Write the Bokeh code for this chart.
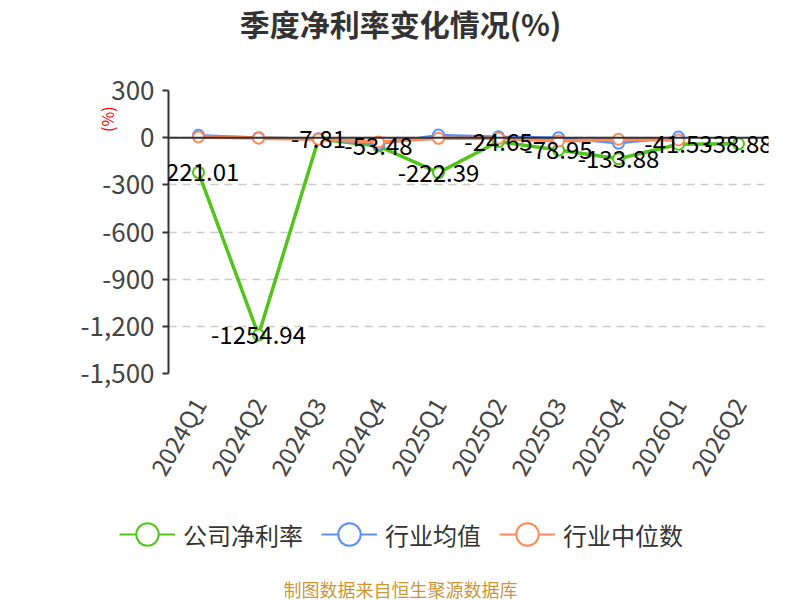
import math
from bokeh.plotting import figure
from bokeh.models import (Range1d, FixedTicker, NumeralTickFormatter, Span, Label,
                          Legend, LegendItem, ColumnDataSource, LabelSet)
from bokeh.core.properties import value
from bokeh.embed import file_html
from bokeh.resources import INLINE

quarters = ["2024Q1", "2024Q2", "2024Q3", "2024Q4", "2025Q1", "2025Q2",
            "2025Q3", "2025Q4", "2026Q1", "2026Q2"]
company = [-221.01, -1254.94, -7.81, -53.48, -222.39, -24.65, -78.95, -133.88, -41.53, -38.88]
company_text = ["-221.01", "-1254.94", "-7.81", "-53.48", "-222.39", "-24.65",
                "-78.95", "-133.88", "-41.53", "-38.88"]
industry_avg = [15, 0, -7, -42, 17, 6, 0, -35, 4]
industry_median = [5, -3, -10, -27, -4, -4, -21, -10, -15]
y_ticks = [-1500, -1200, -900, -600, -300, 0, 300]
series_names = ["公司净利率", "行业均值", "行业中位数"]

FONT = "Noto Sans CJK SC"
GREEN = "#52c41a"
BLUE = "#5b8ff9"
ORANGE = "#ff8a5b"
colors = [GREEN, BLUE, ORANGE]


def blank_fig(h):
    f = figure(width=800, height=h, output_backend="svg", toolbar_location=None,
               x_range=Range1d(0, 800), y_range=Range1d(0, h),
               x_axis_type=None, y_axis_type=None, min_border=0)
    f.outline_line_color = None
    f.xgrid.visible = False
    f.ygrid.visible = False
    return f


# ---------- title strip ----------
top = blank_fig(46)
top.add_layout(Label(x=400, y=24, text="季度净利率变化情况(%)", text_align="center",
                     text_baseline="middle", text_font=FONT, text_font_size="30px",
                     text_font_style="bold", text_color="#333333"))

# ---------- main chart ----------
p = figure(width=800, height=454, output_backend="svg", toolbar_location=None,
           x_range=Range1d(-0.5, len(quarters) - 0.5), y_range=Range1d(-1500, 300),
           min_border_left=168, min_border_right=32, min_border_top=44, min_border_bottom=127)
p.outline_line_color = None

xs = list(range(len(quarters)))

p.xgrid.grid_line_color = None
p.ygrid.grid_line_color = "#cccccc"
p.ygrid.grid_line_width = 1.5
p.ygrid.grid_line_dash = "8 6"
p.ygrid.ticker = FixedTicker(ticks=y_ticks)

ax = p.yaxis[0]
ax.ticker = FixedTicker(ticks=y_ticks)
ax.formatter = NumeralTickFormatter(format="0,0")
ax.axis_line_color = "#333333"
ax.axis_line_width = 2
ax.major_tick_line_color = "#333333"
ax.major_tick_line_width = 2
ax.major_tick_out = 6
ax.major_tick_in = 0
ax.minor_tick_line_color = None
ax.major_label_text_font = FONT
ax.major_label_text_font_size = "26px"
ax.major_label_text_color = "#444444"
ax.major_label_standoff = 8
ax.axis_label = "(%)" + "\u00a0" * 16
ax.axis_label_text_color = "red"
ax.axis_label_text_font = FONT
ax.axis_label_text_font_size = "16px"
ax.axis_label_text_font_style = "normal"
ax.axis_label_standoff = -41
if "axis_label_align" in ax.properties():
    for v in ("end", "right"):
        try:
            ax.axis_label_align = v
            break
        except ValueError:
            pass

p.xaxis.ticker = FixedTicker(ticks=xs)
p.xaxis.major_label_overrides = {i: q for i, q in enumerate(quarters)}
p.xaxis.axis_line_color = None
p.xaxis.major_tick_line_color = None
p.xaxis.minor_tick_line_color = None
p.xaxis.major_label_orientation = math.pi / 3
p.xaxis.major_label_text_font = FONT
p.xaxis.major_label_text_font_size = "24px"
p.xaxis.major_label_text_color = "#444444"
p.xaxis.major_label_standoff = 20

p.add_layout(Span(location=0, dimension="width", line_color="#333333", line_width=2))

p.line(xs, company, line_color=GREEN, line_width=3.5)
p.scatter(xs, company, size=11, fill_color="white", line_color=GREEN, line_width=2)
p.line(xs[:len(industry_avg)], industry_avg, line_color=BLUE, line_width=2.5)
p.scatter(xs[:len(industry_avg)], industry_avg, size=11, fill_color="white", line_color=BLUE, line_width=2)
p.line(xs[:len(industry_median)], industry_median, line_color=ORANGE, line_width=3.5)
p.scatter(xs[:len(industry_median)], industry_median, size=11, fill_color="white", line_color=ORANGE, line_width=2)

lab_src = ColumnDataSource(dict(x=xs, y=company, t=company_text))
p.add_layout(LabelSet(x="x", y="y", text="t", source=lab_src, text_align="center",
                      text_baseline="middle", text_font=value(FONT), text_font_size="24px",
                      text_color="#000000"))

# ---------- legend + source strip ----------
bot = blank_fig(100)
items = []
nan = float("nan")
for name, col in zip(series_names, colors):
    src = ColumnDataSource(dict(x=[nan], y=[nan]))
    r1 = bot.line("x", "y", source=src, line_color=col, line_width=2)
    r2 = bot.scatter("x", "y", source=src, fill_color="white", line_color=col, line_width=2)
    items.append(LegendItem(label=name, renderers=[r1, r2]))
legend = Legend(items=items, orientation="horizontal", location=(119, 38),
                glyph_width=56, glyph_height=56, label_height=56, label_standoff=8,
                spacing=18, padding=0, margin=0, border_line_color=None,
                background_fill_alpha=0, label_text_font=FONT,
                label_text_font_size="24px", label_text_color="#333333")
bot.add_layout(legend, "center")
bot.add_layout(Label(x=400, y=12, text="制图数据来自恒生聚源数据库", text_align="center",
                     text_baseline="middle", text_font=FONT, text_font_size="18px",
                     text_color="#c9973a"))

open("out.html", "w").write(file_html([top, p, bot], INLINE))
